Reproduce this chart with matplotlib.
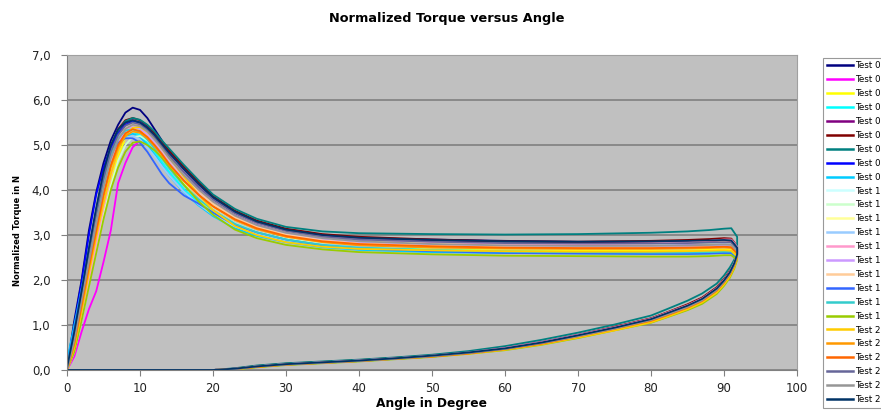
import matplotlib
matplotlib.use("Agg")
import matplotlib.pyplot as plt
import numpy as np

# angle grids (degrees) shared by every test run
LOAD_ANGLE = [0, 1, 2, 3, 4, 5, 6, 7, 8, 9, 10, 11, 12, 13, 14, 16, 18, 20, 23, 26,
              30, 35, 40, 50, 60, 70, 80, 85, 88, 90, 91, 91.8]
UNLOAD_ANGLE = [91.8, 91.4, 90.8, 90, 89, 87, 85, 82, 80, 75, 70, 65, 60, 55, 50, 45,
                40, 35, 30, 26, 23, 20, 10, 0]

LABELS = ["Test 0", "Test 0", "Test 0", "Test 0", "Test 0", "Test 0", "Test 0", "Test 0", "Test 0",
          "Test 1", "Test 1", "Test 1", "Test 1", "Test 1", "Test 1", "Test 1", "Test 1", "Test 1", "Test 1",
          "Test 2", "Test 2", "Test 2", "Test 2", "Test 2", "Test 2"]

# normalized torque while loading (N)
TEST0_LOAD = [
    [0.05, 1.1, 2.0, 3.1, 3.95, 4.6, 5.1, 5.45, 5.72, 5.83, 5.78, 5.6, 5.35, 5.1, 4.85, 4.45, 4.12, 3.82, 3.5, 3.28, 3.1, 2.98, 2.93, 2.9, 2.87, 2.85, 2.85, 2.86, 2.87, 2.88, 2.86, 2.7],
    [0.0, 0.3, 0.85, 1.35, 1.75, 2.4, 3.1, 4.15, 4.6, 4.95, 5.1, 5.05, 4.9, 4.7, 4.5, 4.15, 3.88, 3.63, 3.35, 3.15, 2.99, 2.88, 2.83, 2.8, 2.78, 2.77, 2.78, 2.8, 2.82, 2.84, 2.83, 2.66],
    [0.0, 0.45, 1.2, 2.0, 2.8, 3.55, 4.2, 4.75, 5.15, 5.35, 5.38, 5.25, 5.05, 4.82, 4.58, 4.15, 3.8, 3.5, 3.2, 3.0, 2.85, 2.76, 2.71, 2.68, 2.66, 2.65, 2.65, 2.66, 2.67, 2.68, 2.67, 2.55],
    [0.15, 0.85, 1.75, 2.65, 3.5, 4.25, 4.8, 5.1, 5.27, 5.3, 5.22, 5.05, 4.85, 4.62, 4.4, 4.02, 3.72, 3.48, 3.2, 3.02, 2.87, 2.77, 2.72, 2.67, 2.64, 2.62, 2.61, 2.61, 2.62, 2.63, 2.62, 2.5],
    [0.05, 0.8, 1.75, 2.65, 3.55, 4.35, 4.95, 5.3, 5.5, 5.55, 5.5, 5.4, 5.25, 5.05, 4.85, 4.5, 4.15, 3.85, 3.52, 3.3, 3.12, 3.0, 2.93, 2.88, 2.85, 2.84, 2.84, 2.85, 2.86, 2.87, 2.85, 2.7],
    [0.05, 0.75, 1.65, 2.55, 3.45, 4.3, 4.95, 5.35, 5.55, 5.6, 5.55, 5.43, 5.27, 5.08, 4.88, 4.52, 4.18, 3.86, 3.54, 3.32, 3.14, 3.02, 2.96, 2.9, 2.86, 2.85, 2.87, 2.89, 2.91, 2.93, 2.92, 2.75],
    [0.1, 0.8, 1.7, 2.6, 3.5, 4.3, 4.95, 5.32, 5.53, 5.6, 5.56, 5.45, 5.3, 5.1, 4.92, 4.56, 4.22, 3.9, 3.58, 3.36, 3.18, 3.08, 3.04, 3.02, 3.01, 3.02, 3.05, 3.08, 3.11, 3.14, 3.15, 2.96],
    [0.05, 1.0, 1.95, 3.0, 3.9, 4.5, 4.95, 5.25, 5.45, 5.53, 5.5, 5.38, 5.2, 5.0, 4.78, 4.4, 4.06, 3.77, 3.46, 3.25, 3.07, 2.95, 2.89, 2.84, 2.81, 2.8, 2.8, 2.81, 2.82, 2.83, 2.81, 2.66],
    [0.2, 1.0, 1.8, 2.6, 3.4, 4.15, 4.7, 5.0, 5.2, 5.25, 5.18, 5.0, 4.78, 4.55, 4.32, 3.95, 3.66, 3.42, 3.15, 2.98, 2.84, 2.73, 2.67, 2.62, 2.6, 2.59, 2.58, 2.58, 2.59, 2.6, 2.6, 2.5],
]
TEST1_LOAD = [
    [0.0, 0.55, 1.4, 2.25, 3.05, 3.85, 4.5, 4.95, 5.22, 5.3, 5.28, 5.15, 4.97, 4.77, 4.55, 4.18, 3.88, 3.62, 3.33, 3.14, 2.98, 2.88, 2.83, 2.8, 2.79, 2.79, 2.8, 2.81, 2.82, 2.83, 2.82, 2.66],
    [0.0, 0.4, 1.1, 1.9, 2.7, 3.45, 4.1, 4.65, 5.0, 5.18, 5.2, 5.1, 4.92, 4.7, 4.48, 4.1, 3.8, 3.55, 3.26, 3.07, 2.92, 2.81, 2.76, 2.72, 2.7, 2.69, 2.69, 2.7, 2.71, 2.72, 2.71, 2.58],
    [0.0, 0.6, 1.45, 2.3, 3.1, 3.9, 4.55, 5.0, 5.28, 5.35, 5.32, 5.2, 5.02, 4.82, 4.6, 4.22, 3.92, 3.66, 3.37, 3.17, 3.0, 2.9, 2.85, 2.82, 2.81, 2.8, 2.81, 2.82, 2.83, 2.84, 2.83, 2.68],
    [0.1, 0.75, 1.65, 2.5, 3.35, 4.1, 4.65, 4.98, 5.15, 5.2, 5.12, 4.95, 4.75, 4.53, 4.32, 3.96, 3.68, 3.45, 3.19, 3.02, 2.88, 2.79, 2.75, 2.73, 2.72, 2.71, 2.71, 2.72, 2.73, 2.74, 2.73, 2.6],
    [0.0, 0.45, 1.2, 2.0, 2.8, 3.6, 4.3, 4.9, 5.3, 5.45, 5.45, 5.35, 5.18, 4.98, 4.77, 4.4, 4.07, 3.78, 3.47, 3.26, 3.08, 2.96, 2.9, 2.84, 2.8, 2.79, 2.81, 2.84, 2.87, 2.9, 2.9, 2.74],
    [0.0, 0.6, 1.5, 2.35, 3.2, 4.0, 4.62, 5.05, 5.3, 5.4, 5.36, 5.24, 5.06, 4.86, 4.64, 4.27, 3.96, 3.7, 3.4, 3.2, 3.03, 2.9, 2.83, 2.78, 2.75, 2.74, 2.74, 2.74, 2.75, 2.76, 2.75, 2.62],
    [0.0, 0.65, 1.55, 2.4, 3.25, 4.05, 4.7, 5.12, 5.37, 5.45, 5.42, 5.3, 5.12, 4.9, 4.68, 4.3, 3.98, 3.7, 3.39, 3.18, 3.01, 2.88, 2.81, 2.76, 2.73, 2.72, 2.72, 2.72, 2.73, 2.74, 2.73, 2.6],
    [0.1, 0.9, 1.8, 2.7, 3.55, 4.3, 4.8, 5.05, 5.15, 5.15, 5.05, 4.85, 4.6, 4.35, 4.15, 3.88, 3.7, 3.5, 3.22, 3.06, 2.9, 2.77, 2.7, 2.64, 2.6, 2.59, 2.58, 2.58, 2.59, 2.6, 2.6, 2.5],
    [0.1, 0.8, 1.7, 2.6, 3.45, 4.2, 4.8, 5.15, 5.32, 5.35, 5.28, 5.12, 4.92, 4.7, 4.48, 4.1, 3.8, 3.55, 3.25, 3.06, 2.9, 2.78, 2.72, 2.66, 2.63, 2.62, 2.61, 2.61, 2.62, 2.63, 2.63, 2.52],
    [0.0, 0.4, 1.1, 1.85, 2.6, 3.35, 4.0, 4.5, 4.85, 5.05, 5.08, 5.0, 4.88, 4.72, 4.52, 4.12, 3.75, 3.45, 3.12, 2.93, 2.78, 2.68, 2.62, 2.57, 2.54, 2.53, 2.52, 2.52, 2.53, 2.55, 2.55, 2.45],
]
TEST2_LOAD = [
    [0.0, 0.5, 1.3, 2.15, 2.95, 3.7, 4.35, 4.88, 5.22, 5.38, 5.4, 5.3, 5.15, 4.95, 4.73, 4.3, 3.9, 3.55, 3.2, 3.0, 2.84, 2.74, 2.69, 2.66, 2.64, 2.63, 2.63, 2.64, 2.65, 2.66, 2.65, 2.52],
    [0.0, 0.55, 1.4, 2.25, 3.05, 3.85, 4.5, 4.95, 5.2, 5.3, 5.27, 5.15, 4.97, 4.77, 4.56, 4.2, 3.89, 3.63, 3.33, 3.13, 2.96, 2.84, 2.77, 2.72, 2.7, 2.69, 2.69, 2.7, 2.71, 2.72, 2.71, 2.58],
    [0.0, 0.6, 1.45, 2.3, 3.1, 3.9, 4.55, 5.0, 5.26, 5.35, 5.31, 5.18, 5.0, 4.8, 4.58, 4.21, 3.9, 3.64, 3.35, 3.15, 2.98, 2.86, 2.8, 2.75, 2.72, 2.71, 2.71, 2.72, 2.73, 2.74, 2.73, 2.6],
    [0.05, 0.8, 1.7, 2.6, 3.45, 4.25, 4.85, 5.22, 5.43, 5.5, 5.46, 5.34, 5.17, 4.97, 4.76, 4.4, 4.07, 3.79, 3.48, 3.27, 3.09, 2.96, 2.9, 2.85, 2.82, 2.81, 2.81, 2.82, 2.83, 2.84, 2.83, 2.68],
    [0.0, 0.65, 1.55, 2.4, 3.25, 4.05, 4.7, 5.12, 5.36, 5.45, 5.42, 5.3, 5.12, 4.92, 4.7, 4.33, 4.01, 3.74, 3.43, 3.22, 3.05, 2.93, 2.86, 2.8, 2.77, 2.76, 2.76, 2.77, 2.78, 2.79, 2.78, 2.64],
    [0.05, 0.85, 1.75, 2.7, 3.6, 4.4, 5.0, 5.35, 5.5, 5.55, 5.5, 5.38, 5.22, 5.02, 4.82, 4.47, 4.14, 3.84, 3.52, 3.3, 3.12, 3.0, 2.94, 2.89, 2.86, 2.85, 2.86, 2.87, 2.88, 2.89, 2.88, 2.72],
]

# normalized torque while unloading (N)
TEST0_UNLOAD = [
    [2.58, 2.38, 2.18, 2.0, 1.82, 1.59, 1.44, 1.26, 1.14, 0.95, 0.78, 0.62, 0.49, 0.39, 0.32, 0.26, 0.21, 0.17, 0.13, 0.08, 0.03, 0.0, 0.0, 0.0],
    [2.55, 2.35, 2.15, 1.97, 1.79, 1.56, 1.41, 1.23, 1.12, 0.93, 0.76, 0.6, 0.47, 0.38, 0.31, 0.26, 0.21, 0.17, 0.13, 0.08, 0.02, 0.0, 0.0, 0.0],
    [2.5, 2.3, 2.1, 1.92, 1.74, 1.52, 1.37, 1.19, 1.08, 0.9, 0.73, 0.58, 0.46, 0.37, 0.3, 0.25, 0.2, 0.16, 0.12, 0.07, 0.02, 0.0, 0.0, 0.0],
    [2.52, 2.32, 2.12, 1.94, 1.76, 1.54, 1.39, 1.21, 1.1, 0.91, 0.74, 0.59, 0.46, 0.37, 0.3, 0.25, 0.2, 0.16, 0.12, 0.07, 0.02, 0.0, 0.0, 0.0],
    [2.57, 2.37, 2.17, 1.99, 1.81, 1.58, 1.43, 1.25, 1.13, 0.94, 0.77, 0.61, 0.48, 0.39, 0.32, 0.26, 0.21, 0.17, 0.13, 0.08, 0.03, 0.0, 0.0, 0.0],
    [2.58, 2.39, 2.2, 2.02, 1.84, 1.61, 1.46, 1.27, 1.15, 0.96, 0.78, 0.62, 0.49, 0.4, 0.32, 0.27, 0.22, 0.18, 0.14, 0.09, 0.03, 0.0, 0.0, 0.0],
    [2.62, 2.45, 2.28, 2.1, 1.92, 1.7, 1.54, 1.34, 1.21, 1.01, 0.83, 0.67, 0.53, 0.42, 0.34, 0.28, 0.23, 0.19, 0.15, 0.1, 0.04, 0.0, 0.0, 0.0],
    [2.56, 2.36, 2.16, 1.98, 1.8, 1.57, 1.42, 1.24, 1.13, 0.94, 0.77, 0.61, 0.48, 0.38, 0.31, 0.26, 0.21, 0.17, 0.13, 0.08, 0.02, 0.0, 0.0, 0.0],
    [2.5, 2.3, 2.11, 1.93, 1.75, 1.53, 1.38, 1.2, 1.09, 0.9, 0.74, 0.58, 0.46, 0.37, 0.3, 0.25, 0.2, 0.16, 0.12, 0.07, 0.02, 0.0, 0.0, 0.0],
]
TEST1_UNLOAD = [
    [2.56, 2.36, 2.16, 1.98, 1.8, 1.57, 1.42, 1.24, 1.12, 0.93, 0.76, 0.6, 0.47, 0.38, 0.31, 0.26, 0.21, 0.17, 0.13, 0.08, 0.02, 0.0, 0.0, 0.0],
    [2.52, 2.32, 2.12, 1.94, 1.76, 1.54, 1.39, 1.21, 1.1, 0.91, 0.75, 0.59, 0.47, 0.37, 0.3, 0.25, 0.2, 0.16, 0.12, 0.07, 0.02, 0.0, 0.0, 0.0],
    [2.56, 2.36, 2.16, 1.98, 1.8, 1.57, 1.42, 1.24, 1.12, 0.93, 0.76, 0.6, 0.47, 0.38, 0.31, 0.26, 0.21, 0.17, 0.13, 0.08, 0.02, 0.0, 0.0, 0.0],
    [2.53, 2.33, 2.13, 1.95, 1.77, 1.55, 1.4, 1.22, 1.1, 0.92, 0.75, 0.59, 0.47, 0.37, 0.3, 0.25, 0.2, 0.16, 0.12, 0.07, 0.02, 0.0, 0.0, 0.0],
    [2.58, 2.38, 2.18, 2.0, 1.82, 1.59, 1.44, 1.26, 1.14, 0.95, 0.78, 0.62, 0.49, 0.39, 0.32, 0.26, 0.21, 0.17, 0.13, 0.08, 0.03, 0.0, 0.0, 0.0],
    [2.54, 2.34, 2.14, 1.96, 1.78, 1.56, 1.41, 1.23, 1.11, 0.92, 0.76, 0.6, 0.47, 0.38, 0.31, 0.25, 0.2, 0.16, 0.12, 0.07, 0.02, 0.0, 0.0, 0.0],
    [2.53, 2.33, 2.13, 1.95, 1.77, 1.55, 1.4, 1.22, 1.1, 0.92, 0.75, 0.59, 0.47, 0.37, 0.3, 0.25, 0.2, 0.16, 0.12, 0.07, 0.02, 0.0, 0.0, 0.0],
    [2.5, 2.3, 2.1, 1.92, 1.74, 1.52, 1.37, 1.19, 1.08, 0.9, 0.73, 0.58, 0.46, 0.37, 0.3, 0.25, 0.2, 0.16, 0.12, 0.07, 0.02, 0.0, 0.0, 0.0],
    [2.51, 2.31, 2.11, 1.93, 1.75, 1.53, 1.38, 1.2, 1.09, 0.9, 0.74, 0.58, 0.46, 0.37, 0.3, 0.25, 0.2, 0.16, 0.12, 0.07, 0.02, 0.0, 0.0, 0.0],
    [2.45, 2.25, 2.05, 1.87, 1.69, 1.47, 1.33, 1.16, 1.05, 0.88, 0.71, 0.56, 0.44, 0.36, 0.29, 0.24, 0.19, 0.15, 0.11, 0.06, 0.01, 0.0, 0.0, 0.0],
]
TEST2_UNLOAD = [
    [2.48, 2.28, 2.08, 1.9, 1.72, 1.5, 1.35, 1.17, 1.06, 0.88, 0.72, 0.57, 0.45, 0.36, 0.3, 0.25, 0.2, 0.16, 0.12, 0.07, 0.02, 0.0, 0.0, 0.0],
    [2.52, 2.32, 2.12, 1.94, 1.76, 1.53, 1.38, 1.2, 1.09, 0.91, 0.74, 0.58, 0.46, 0.37, 0.3, 0.25, 0.2, 0.16, 0.12, 0.07, 0.02, 0.0, 0.0, 0.0],
    [2.53, 2.33, 2.13, 1.95, 1.77, 1.54, 1.39, 1.21, 1.1, 0.92, 0.75, 0.59, 0.47, 0.37, 0.3, 0.25, 0.2, 0.16, 0.12, 0.07, 0.02, 0.0, 0.0, 0.0],
    [2.55, 2.35, 2.15, 1.97, 1.79, 1.56, 1.41, 1.23, 1.12, 0.93, 0.76, 0.6, 0.47, 0.38, 0.31, 0.26, 0.21, 0.17, 0.13, 0.08, 0.02, 0.0, 0.0, 0.0],
    [2.54, 2.34, 2.14, 1.96, 1.78, 1.55, 1.4, 1.22, 1.11, 0.92, 0.75, 0.6, 0.47, 0.38, 0.31, 0.25, 0.2, 0.16, 0.12, 0.08, 0.02, 0.0, 0.0, 0.0],
    [2.57, 2.37, 2.17, 1.99, 1.81, 1.58, 1.43, 1.25, 1.13, 0.94, 0.77, 0.61, 0.48, 0.39, 0.32, 0.26, 0.21, 0.17, 0.13, 0.08, 0.03, 0.0, 0.0, 0.0],
]

# classic spreadsheet series palette
COLORS = ["#000080", "#FF00FF", "#FFFF00", "#00FFFF", "#800080", "#800000", "#008080", "#0000FF", "#00CCFF",
          "#CCFFFF", "#CCFFCC", "#FFFF99", "#99CCFF", "#FF99CC", "#CC99FF", "#FFCC99", "#3366FF", "#33CCCC", "#99CC00",
          "#FFCC00", "#FF9900", "#FF6600", "#666699", "#969696", "#003366"]

load_all = TEST0_LOAD + TEST1_LOAD + TEST2_LOAD
unload_all = TEST0_UNLOAD + TEST1_UNLOAD + TEST2_UNLOAD

fig = plt.figure(figsize=(8.81, 4.12), dpi=100)
ax = fig.add_axes([67 / 881, 1 - 370 / 412, 730 / 881, 315 / 412])
ax.set_facecolor("#C0C0C0")

angle = np.array(LOAD_ANGLE + UNLOAD_ANGLE)
for load, unload, label, color in zip(load_all, unload_all, LABELS, COLORS):
    torque = np.array(load + unload)
    ax.plot(angle, torque, color=color, lw=1.3, label=label, solid_joinstyle="round")

ax.set_xlim(0, 100)
ax.set_ylim(0, 7)
ax.set_xticks(np.arange(0, 101, 10))
ax.set_yticks(np.arange(0, 8, 1))
ax.set_yticklabels([f"{v:.1f}".replace(".", ",") for v in range(8)])
ax.yaxis.grid(True, color="#808080", lw=1.2)
ax.set_axisbelow(True)
for side in ["top", "right"]:
    ax.spines[side].set_color("#A0A0A0")
for side in ["left", "bottom"]:
    ax.spines[side].set_color("#808080")
ax.tick_params(axis="both", colors="#808080", labelcolor="#222222", labelsize=8.5, length=4)
ax.tick_params(axis="y", pad=8)
ax.tick_params(axis="x", pad=5)

fig.text(0.507, 0.956, "Normalized Torque versus Angle", ha="center", va="center",
         fontsize=9.3, fontweight="bold")
ax.set_xlabel("Angle in Degree", fontsize=8.8, fontweight="bold")
ax.xaxis.set_label_coords(0.5, -0.085)
ax.set_ylabel("Normalized Torque in N", fontsize=6, fontweight="bold")
ax.yaxis.set_label_coords(-0.062, 0.444)

leg = fig.legend(loc="upper left", bbox_to_anchor=(823 / 881, 1 - 57.5 / 412), bbox_transform=fig.transFigure,
                 fontsize=6.3, frameon=True, fancybox=False, borderaxespad=0, borderpad=0.45,
                 labelspacing=0.56, handlelength=3.0, handletextpad=0.25)
leg.get_frame().set_edgecolor("#808080")
leg.get_frame().set_linewidth(0.8)
for line in leg.get_lines():
    line.set_linewidth(1.8)

fig.savefig("out.png", dpi=100)
